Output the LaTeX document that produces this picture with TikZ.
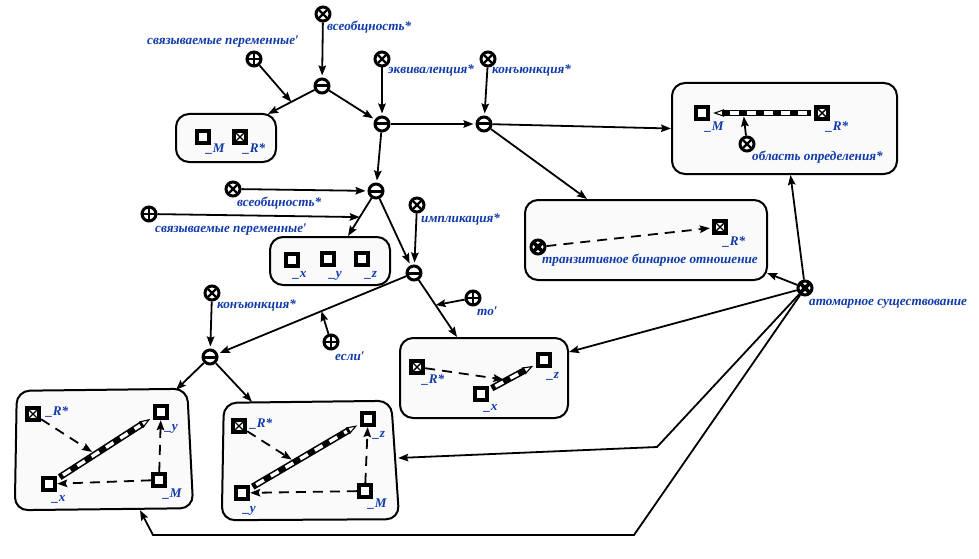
\documentclass[tikz,border=0pt]{standalone}
\usepackage{fontspec}
\setmainfont{Liberation Serif}
\usetikzlibrary{arrows.meta}
\definecolor{lblblue}{RGB}{16,58,170}
\definecolor{boxfill}{RGB}{250,250,250}
% thick "pencil" arc with white stripes and an open tip; #3 names a point on it at position #4
\newcommand\pencilarc[4]{%
  \draw[line width=1.1pt, shorten <=3pt, shorten >=3pt,
        -{Triangle[open, fill=white, length=11pt, width=7.5pt]}] (#1) -- (#2);
  \draw[line width=6.6pt, shorten <=3pt, shorten >=12pt] (#1) -- coordinate[pos=#4] (#3) (#2);
  \draw[white, line width=3.4pt, shorten <=7pt, shorten >=15pt, dash pattern=on 9pt off 8pt] (#1) -- (#2);
}
\begin{document}
\begin{tikzpicture}[x=1pt, y=-1pt,
  ring/.style={circle, draw, line width=3pt, fill=white, minimum size=14pt, inner sep=0pt},
  relnode/.style={ring, path picture={\draw[line width=2.4pt]
      ([shift={(-4pt,-4pt)}]path picture bounding box.center) -- ([shift={(4pt,4pt)}]path picture bounding box.center)
      ([shift={(-4pt,4pt)}]path picture bounding box.center) -- ([shift={(4pt,-4pt)}]path picture bounding box.center);}},
  relheavy/.style={ring, path picture={\draw[line width=3.6pt]
      ([shift={(-5pt,-5pt)}]path picture bounding box.center) -- ([shift={(5pt,5pt)}]path picture bounding box.center)
      ([shift={(-5pt,5pt)}]path picture bounding box.center) -- ([shift={(5pt,-5pt)}]path picture bounding box.center);}},
  rolenode/.style={ring, path picture={\draw[line width=2.2pt]
      ([shift={(-6pt,0pt)}]path picture bounding box.center) -- ([shift={(6pt,0pt)}]path picture bounding box.center)
      ([shift={(0pt,-6pt)}]path picture bounding box.center) -- ([shift={(0pt,6pt)}]path picture bounding box.center);}},
  pairnode/.style={ring, path picture={\draw[line width=3pt]
      ([shift={(-8pt,0pt)}]path picture bounding box.center) -- ([shift={(8pt,0pt)}]path picture bounding box.center);}},
  sq/.style={rectangle, draw, line width=3.8pt, fill=white, minimum size=12.5pt, inner sep=0pt},
  sqx/.style={sq, path picture={\draw[line width=1.4pt]
      (path picture bounding box.south west) -- (path picture bounding box.north east)
      (path picture bounding box.north west) -- (path picture bounding box.south east);}},
  lbl/.style={font=\bfseries\itshape\fontsize{13.2}{15}\selectfont, text=lblblue, inner sep=0pt, anchor=base west},
  box/.style={draw, line width=2pt, rounded corners=13pt, fill=boxfill, inner sep=0pt},
  frame/.style={inner sep=0pt, draw=none},
  arr/.style={line width=1.8pt, -{Stealth[length=10pt, width=7.5pt, inset=1.5pt]}},
  narr/.style={arr, shorten >=2pt},
  dsh/.style={arr, dash pattern=on 10pt off 7pt},
]
\useasboundingbox (0,0) rectangle (979,559);

% ---------- boxes ----------
\node[box, minimum width=100pt, minimum height=48pt] (box1) at (226,138) {};
\node[box, minimum width=225pt, minimum height=91pt] (box2) at (784.5,128.5) {};
\node[box, minimum width=242pt, minimum height=80pt] (box3) at (646,240) {};
\node[box, minimum width=120pt, minimum height=48pt] (box4) at (330,261) {};
\node[box, minimum width=168pt, minimum height=80pt] (box5) at (484,378) {};
\node[frame, minimum width=174pt, minimum height=120pt] (box6) at (104,450) {};
\draw[box] ([shift={(0,1)}]box6.north west) -- ([shift={(-4,-1)}]box6.north east)
  -- ([shift={(2,-2)}]box6.south east) -- ([shift={(-2,0)}]box6.south west) -- cycle;
\node[frame, minimum width=172pt, minimum height=118pt] (box7) at (310,461) {};
\draw[box] ([shift={(0,1)}]box7.north west) -- ([shift={(-5,-1)}]box7.north east)
  -- ([shift={(3,-1)}]box7.south east) -- ([shift={(-2,0)}]box7.south west) -- cycle;

% ---------- upper structure ----------
\node[relnode] (a1) at (323,14) {};
\node[lbl] (la1) at (327,31) {всеобщность*};
\node[rolenode] (p1) at (254,59) {};
\node[lbl] (lp1) at (147,45) {связываемые переменные′};
\node[pairnode] (g1) at (322,86) {};
\node[sq] (s1M) at (203,137) {};
\node[lbl] (l1M) at (206,153) {\_M};
\node[sqx] (s1R) at (240,137) {};
\node[lbl] (l1R) at (243,153) {\_R*};
\node[relnode] (a2) at (382,59) {};
\node[lbl] (la2) at (388,74) {эквиваленция*};
\node[pairnode] (g2) at (382,124) {};
\node[relnode] (a3) at (488,59) {};
\node[lbl] (la3) at (492,74) {конъюнкция*};
\node[pairnode] (g3) at (484,124) {};

% box 2: domain of the relation
\node[sq] (s2M) at (702,113) {};
\node[lbl] (l2M) at (705,130) {\_M};
\node[sqx] (s2R) at (822,113) {};
\node[lbl] (l2R) at (826,130) {\_R*};
\node[relnode] (a7) at (747,144) {};
\node[lbl] (la7) at (752,160) {область определения*};
\pencilarc{s2R}{s2M}{c2}{0.68}
\draw[arr, shorten >=3.5pt] (a7) -- (c2);

% box 3: transitive relation
\node[relheavy] (a8) at (538,247) {};
\node[lbl] (la8) at (542,263) {транзитивное бинарное отношение};
\node[sqx] (s3R) at (720,227) {};
\node[lbl] (l3R) at (723,245) {\_R*};
\draw[dsh, shorten >=2pt] (a8) -- (s3R);

% ---------- middle structure ----------
\node[pairnode] (g4) at (376,191) {};
\node[relnode] (a4) at (233,189) {};
\node[lbl] (la4) at (237,206) {всеобщность*};
\node[rolenode] (p2) at (149,214) {};
\node[lbl] (lp2) at (155,232) {связываемые переменные′};
\node[sq] (s4x) at (292,260) {};
\node[lbl] (l4x) at (293,277) {\_x};
\node[sq] (s4y) at (328,259) {};
\node[lbl] (l4y) at (329,277) {\_y};
\node[sq] (s4z) at (362,259) {};
\node[lbl] (l4z) at (365,277) {\_z};
\node[relnode] (a5) at (417,205) {};
\node[lbl] (la5) at (421,222) {импликация*};
\node[pairnode] (g5) at (414,273) {};
\node[rolenode] (p3) at (473,298) {};
\node[lbl] (lp3) at (477,315) {то′};

% box 5: conclusion
\node[sqx] (s5R) at (417,367) {};
\node[lbl] (l5R) at (422,383) {\_R*};
\node[sq] (s5x) at (481,394) {};
\node[lbl] (l5x) at (484,410) {\_x};
\node[sq] (s5z) at (544,360) {};
\node[lbl] (l5z) at (547,378) {\_z};
\pencilarc{s5x}{s5z}{c5}{0.38}
\draw[dsh, shorten >=3.5pt] (s5R) -- (c5);

% ---------- lower structure ----------
\node[pairnode] (g6) at (210,357) {};
\node[relnode] (a6) at (212,293) {};
\node[lbl] (la6) at (217,308) {конъюнкция*};
\node[rolenode] (p4) at (331,342) {};
\node[lbl] (lp4) at (335,360) {если′};

% box 6
\node[sqx] (s6R) at (33,414) {};
\node[lbl] (l6R) at (46,415) {\_R*};
\node[sq] (s6y) at (161,412) {};
\node[lbl] (l6y) at (165,430) {\_y};
\node[sq] (s6x) at (49,484) {};
\node[lbl] (l6x) at (52,501) {\_x};
\node[sq] (s6M) at (159,480) {};
\node[lbl] (l6M) at (163,497) {\_M};
\pencilarc{s6x}{s6y}{c6}{0.4}
\draw[dsh, shorten >=4pt] (s6R) -- (c6);
\draw[dsh] (s6M) -- (s6x);
\draw[dsh] (s6M) -- (s6y);

% box 7
\node[sqx] (s7R) at (239,426) {};
\node[lbl] (l7R) at (250,427) {\_R*};
\node[sq] (s7z) at (368,419) {};
\node[lbl] (l7z) at (373,437) {\_z};
\node[sq] (s7y) at (242,493) {};
\node[lbl] (l7y) at (243,512) {\_y};
\node[sq] (s7M) at (365,491) {};
\node[lbl] (l7M) at (368,507) {\_M};
\pencilarc{s7y}{s7z}{c7}{0.41}
\draw[dsh, shorten >=4pt] (s7R) -- (c7);
\draw[dsh] (s7M) -- (s7y);
\draw[dsh] (s7M) -- (s7z);

% atomic existence
\node[relheavy] (atom) at (805,288) {};
\node[lbl] (latom) at (809,305) {атомарное существование};

% ---------- connectors ----------
\draw[narr] (a1) -- (g1);
\draw[narr] (a2) -- (g2);
\draw[narr] (a3) -- (g3);
\draw[narr] (a4) -- (g4);
\draw[narr] (a5) -- (g5);
\draw[narr] (a6) -- (g6);

\draw[arr] (g1) -- coordinate[pos=.5] (m1) ([shift={(42,1)}]box1.north);
\draw[narr] (g1) -- (g2);
\draw[narr] (g2) -- (g3);
\draw[narr] (g2) -- (g4);
\draw[arr] (g3) -- (box2.west);
\draw[arr] (g3) -- ([shift={(-59,0)}]box3.north);
\draw[arr] (g4) -- coordinate[pos=.5] (m2) ([shift={(18,0)}]box4.north);
\draw[narr] (g4) -- (g5);
\draw[arr] (g5) -- coordinate[pos=.44] (m3) ([shift={(-27,0)}]box5.north);
\draw[narr] (g5) -- coordinate[pos=.45] (m4) (g6);
\draw[arr] (g6) -- ([shift={(72,0)}]box6.north);
\draw[arr] (g6) -- ([shift={(-58,0)}]box7.north);

\draw[arr] (p1) -- (m1);
\draw[arr] (p2) -- (m2);
\draw[arr] (p3) -- (m3);
\draw[arr] (p4) -- (m4);

\coordinate (k1) at (657,447);
\coordinate (k2) at (634,535);
\coordinate (k3) at (153,535);
\draw[arr] (atom) -- ([shift={(6,0)}]box2.south);
\draw[arr] (atom) -- ([shift={(-1,33)}]box3.east);
\draw[arr] (atom) -- ([shift={(0,-26)}]box5.east);
\draw[arr] (atom) -- (k1) -- ([shift={(2,-3)}]box7.east);
\draw[arr] (atom) -- (k2) -- (k3) -- ([shift={(36,0)}]box6.south);
\end{tikzpicture}
\end{document}
